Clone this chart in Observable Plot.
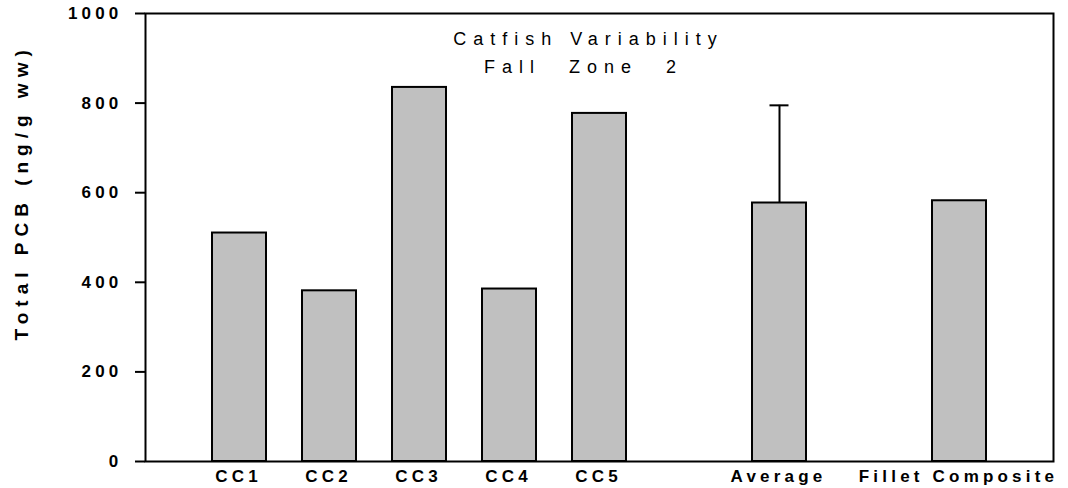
<!DOCTYPE html>
<html>
<head>
<meta charset="utf-8">
<script src="https://cdn.jsdelivr.net/npm/d3@7"></script>
<script src="https://cdn.jsdelivr.net/npm/@observablehq/plot@0.6"></script>
<style>
  html, body { margin: 0; padding: 0; background: white; }
</style>
</head>
<body>
<div id="chart"></div>
<script>
// ---- data ----
const categories = ["CC1", "CC2", "CC3", "CC4", "CC5", "Average", "Fillet Composite"];
const values = [510, 381, 835, 385, 777, 577, 582];
const errorCategories = ["Average"];
const errorHigh = [795];
const slotDomain = ["CC1", "CC2", "CC3", "CC4", "CC5", "gap1", "Average", "gap2", "Fillet Composite"];
const yTicks = [0, 200, 400, 600, 800, 1000];
const yLabel = "Total PCB (ng/g ww)";
const titleLines = ["Catfish Variability", "Fall\u00A0\u2002Zone\u00A0\u20022"];

const data = categories.map((c, i) => ({category: c, value: values[i]}));
const err = errorCategories.map((c, i) => ({
  category: c,
  low: values[categories.indexOf(c)],
  high: errorHigh[i]
}));

const font = "Arial, 'Liberation Sans', sans-serif";

const chart = Plot.plot({
  width: 1068,
  height: 488,
  marginLeft: 145,
  marginRight: 15,
  marginTop: 13,
  marginBottom: 27,
  style: {fontFamily: font, background: "white", color: "black"},
  x: {type: "band", domain: slotDomain, paddingInner: 0.4, paddingOuter: 0.7, axis: null},
  y: {domain: [0, 1000], axis: null},
  marks: [
    Plot.barY(data, {x: "category", y: "value", fill: "#c0c0c0", stroke: "black", strokeWidth: 2}),
    Plot.ruleX(err, {x: "category", y1: "low", y2: "high", stroke: "black", strokeWidth: 2}),
    Plot.tickY(err, {x: "category", y: "high", stroke: "black", strokeWidth: 2, insetLeft: 17.5, insetRight: 17.5}),
    Plot.frame({stroke: "black", strokeWidth: 2}),
    Plot.axisY({ticks: yTicks, tickSize: 10, tickPadding: 13, tickFormat: d => String(d),
      fontSize: 17, fontWeight: "bold", strokeWidth: 2, label: null}),
    Plot.axisX({ticks: categories, tickSize: 0, tickPadding: 8, dx: -1,
      fontSize: 17, fontWeight: "bold", label: null}),
    Plot.text([yLabel], {text: d => d, frameAnchor: "bottom-left", rotate: -90, textAnchor: "start",
      lineAnchor: "middle", dx: -124, dy: -121, fontSize: 19, fontWeight: "bold"}),
    Plot.text([titleLines[0]], {text: d => d, frameAnchor: "top", lineAnchor: "top",
      dx: -11, dy: 19, fontSize: 18, fontWeight: "normal"}),
    Plot.text([titleLines[1]], {text: d => d, frameAnchor: "top", lineAnchor: "top",
      dx: -16, dy: 47, fontSize: 18, fontWeight: "normal"})
  ]
});

const svg = d3.select(chart);
svg.selectAll('g[aria-label="y-axis tick label"] text').style("letter-spacing", "4.2px");
svg.selectAll('g[aria-label="x-axis tick label"] text').style("letter-spacing", "4.2px");
svg.selectAll("text").each(function() {
  const t = this.textContent;
  if (t === yLabel) d3.select(this).style("letter-spacing", "6px");
  if (titleLines.includes(t)) d3.select(this).style("letter-spacing", "7px").style("white-space", "pre");
});
document.getElementById("chart").appendChild(chart);
</script>
</body>
</html>
